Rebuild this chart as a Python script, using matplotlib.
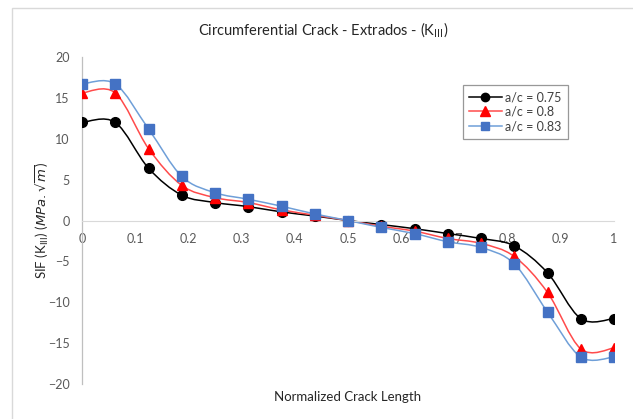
import matplotlib
matplotlib.use("Agg")
import matplotlib.pyplot as plt
from matplotlib.path import Path
from matplotlib.patches import PathPatch, Rectangle
import numpy as np

plt.rcParams['font.family'] = ['Lato', 'DejaVu Sans']

# --- data ---
crack_len = [0, 0.0625, 0.125, 0.1875, 0.25, 0.3125, 0.375, 0.4375, 0.5,
             0.5625, 0.625, 0.6875, 0.75, 0.8125, 0.875, 0.9375, 1.0]
sif_075 = [12.0, 12.0, 6.4, 3.1, 2.2, 1.7, 1.05, 0.55, 0.0,
           -0.5, -1.0, -1.6, -2.2, -3.1, -6.4, -12.0, -12.0]
sif_080 = [15.6, 15.6, 8.8, 4.3, 2.8, 2.2, 1.3, 0.65, 0.0,
           -0.7, -1.3, -2.2, -2.8, -4.4, -8.8, -15.7, -15.6]
sif_083 = [16.7, 16.7, 11.2, 5.4, 3.4, 2.6, 1.75, 0.8, 0.0,
           -0.85, -1.6, -2.6, -3.3, -5.3, -11.2, -16.7, -16.7]
labels = ['a/c = 0.75', 'a/c = 0.8', 'a/c = 0.83']

x_ticks = [0, 0.1, 0.2, 0.3, 0.4, 0.5, 0.6, 0.7, 0.8, 0.9, 1]
x_tick_labels = ['0', '0.1', '0.2', '0.3', '0.4', '0.5', '0.6', '0.7', '0.8', '0.9', '1']
y_ticks = [-20, -15, -10, -5, 0, 5, 10, 15, 20]


def smooth_path(xs, ys):
    # Excel-like smoothed line: cubic Bezier segments through the points
    pts = np.column_stack([xs, ys])
    n = len(pts)
    verts = [pts[0]]
    codes = [Path.MOVETO]
    for i in range(n - 1):
        p0 = pts[max(i - 1, 0)]
        p1 = pts[i]
        p2 = pts[i + 1]
        p3 = pts[min(i + 2, n - 1)]
        c1 = p1 + (p2 - p0) / 6.0
        c2 = p2 - (p3 - p1) / 6.0
        verts += [c1, c2, p2]
        codes += [Path.CURVE4] * 3
    return Path(verts, codes)


fig = plt.figure(figsize=(6.33, 4.19), dpi=100)
ax = fig.add_axes([82 / 633, 1 - 384 / 419, 532 / 633, 327 / 419])

styles = [
    (sif_075, 'black', 'black', 'o', 7),
    (sif_080, '#ff4b4b', 'red', '^', 7.5),
    (sif_083, '#6f9fd8', '#4472c4', 's', 7),
]
handles = []
for (vals, lc, mc, mk, ms), lab in zip(styles, labels):
    ax.add_patch(PathPatch(smooth_path(crack_len, vals), facecolor='none',
                           edgecolor=lc, lw=1.1, zorder=2))
    ax.plot(crack_len, vals, ls='none', marker=mk, ms=ms, color=mc, zorder=3)
    h, = ax.plot([], [], color=lc, lw=1.1, marker=mk, ms=ms - 1,
                 markerfacecolor=mc, markeredgecolor=mc)
    handles.append(h)

ax.set_xlim(0, 1)
ax.set_ylim(-20, 20)
ax.set_xticks(x_ticks)
ax.set_xticklabels(x_tick_labels)
ax.set_yticks(y_ticks)

for s in ['top', 'right']:
    ax.spines[s].set_visible(False)
ax.spines['bottom'].set_position(('data', 0))
ax.spines['bottom'].set_color('#d9d9d9')
ax.spines['left'].set_color('#bfbfbf')
ax.spines['left'].set_linewidth(0.9)
ax.tick_params(axis='both', length=0, labelsize=9, labelcolor='#595959')
ax.tick_params(axis='x', pad=9)
ax.tick_params(axis='y', pad=9)

fig.text(323 / 633, 1 - 30 / 419, r'Circumferential Crack - Extrados - (K$_{\mathrm{III}}$)',
         ha='center', va='center', fontsize=10.5, color='#262626')
fig.text(348 / 633, 1 - 397 / 419, 'Normalized Crack Length',
         ha='center', va='center', fontsize=9.5, color='#262626')
fig.text(42 / 633, 1 - 220 / 419, r'SIF (K$_{\mathrm{III}}$) ($MPa.\sqrt{m}$)',
         ha='center', va='center', rotation=90, fontsize=9.5, color='#262626')

leg = ax.legend(handles, labels, loc='upper left', bbox_to_anchor=(0.716, 0.914),
                borderaxespad=0, fontsize=9, frameon=True, fancybox=False,
                handlelength=2.6, handletextpad=0.3, labelspacing=0.2,
                borderpad=0.5)
leg.get_frame().set_edgecolor('#7f7f7f')
leg.get_frame().set_linewidth(0.9)
for t in leg.get_texts():
    t.set_color('#404040')

# chart area border (cut off at right / bottom in the reference)
fig.patches.append(Rectangle((12 / 633, -0.1), 1.2, 1 - 8 / 419 + 0.1,
                             transform=fig.transFigure, fill=False,
                             edgecolor='#d9d9d9', lw=1.0))

fig.savefig('out.png', dpi=100)
